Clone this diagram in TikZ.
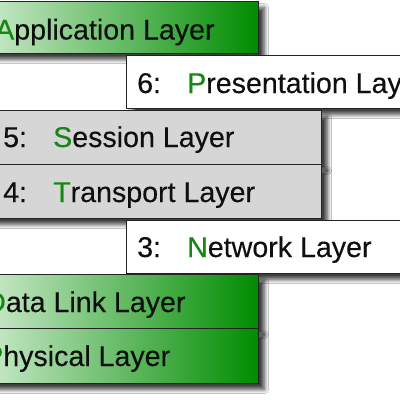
\documentclass[tikz,border=0pt]{standalone}
\usepackage{fontspec}
\setmainfont{Liberation Sans}
\newfontfamily\lblfont{Liberation Sans}[FakeBold=0.3]
\usetikzlibrary{shadows.blur}
\definecolor{boxgray}{RGB}{214,214,214}
\definecolor{edgecol}{RGB}{35,35,35}
\definecolor{gleft}{RGB}{236,249,236}
\definecolor{gright}{RGB}{0,140,0}
\definecolor{letgreen}{RGB}{20,135,20}
\definecolor{txtcol}{RGB}{15,15,15}
\newcommand{\gl}[1]{\textcolor{letgreen}{#1}}
\newcommand{\nb}[1]{\makebox[50pt][l]{#1}}
\tikzset{
  layerbox/.style={draw=edgecol, line width=1.1pt, rectangle, inner sep=0pt, anchor=north west,
    blur shadow={shadow xshift=6pt, shadow yshift=-6pt, shadow blur radius=4pt, shadow opacity=75, shadow blur steps=8}},
  greenbox/.style={layerbox, left color=gleft, right color=gright},
  graybox/.style={layerbox, fill=boxgray},
  whitebox/.style={layerbox, fill=white},
  lbl/.style={anchor=base west, inner sep=0pt, text=txtcol, font=\lblfont\fontsize{28.6}{30}\selectfont}
}
\begin{document}
\begin{tikzpicture}[x=1pt,y=-1pt]
\useasboundingbox (0,0) rectangle (400,400);
\fill[white] (0,0) rectangle (400,400);
\clip (0,0) rectangle (400,400);
% Application
\node[greenbox, minimum width=318pt, minimum height=52pt] (app) at (-60,1) {};
\node[lbl] (tapp) at (-5,39.5) {\gl{A}pplication Layer};
% Presentation
\node[whitebox, minimum width=334pt, minimum height=53pt] (pres) at (126,55) {};
\node[lbl] (tpres) at (137,93) {\nb{6:}\gl{P}resentation Layer};
% Session
\node[graybox, minimum width=341pt, minimum height=54pt] (sess) at (-20,110) {};
\node[lbl] (tsess) at (3,147) {\nb{5:}\gl{S}ession Layer};
% Transport
\node[graybox, minimum width=341pt, minimum height=54pt] (trans) at (-20,164) {};
\node[lbl] (ttrans) at (3,202) {\nb{4:}\gl{T}ransport Layer};
% Network
\node[whitebox, minimum width=334pt, minimum height=53pt] (net) at (126,220) {};
\node[lbl] (tnet) at (137,257) {\nb{3:}\gl{N}etwork Layer};
% Data Link
\node[greenbox, minimum width=318pt, minimum height=54pt] (dl) at (-60,274) {};
\node[lbl] (tdl) at (-15,312) {\gl{D}ata Link Layer};
% Physical
\node[greenbox, minimum width=318pt, minimum height=55pt] (phy) at (-60,328) {};
\node[lbl] (tphy) at (-16,366) {\gl{P}hysical Layer};
\end{tikzpicture}
\end{document}
